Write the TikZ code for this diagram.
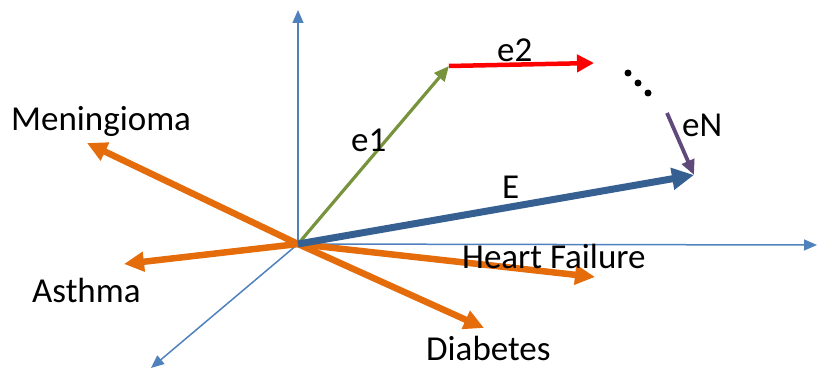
\documentclass[tikz,border=0pt]{standalone}
\usepackage{fontspec}
\setmainfont{Carlito}
\usetikzlibrary{arrows.meta}
\definecolor{axisblue}{RGB}{79,129,189}
\definecolor{orng}{RGB}{228,108,10}
\definecolor{ebl}{RGB}{55,96,146}
\definecolor{grn}{RGB}{119,147,60}
\definecolor{prp}{RGB}{96,74,123}
\begin{document}
\begin{tikzpicture}[x=1pt,y=-1pt,
  axis/.style={draw=axisblue,line width=1.5pt,-{Triangle[length=13pt,width=11pt]}},
  disease/.style={draw=orng,line width=6.5pt,-{Triangle[length=20pt,width=19pt]}},
  vec/.style={line width=3.2pt,-{Triangle[length=15pt,width=13pt]}},
  lbl/.style={anchor=base west,inner sep=0pt,font=\fontsize{35}{42}\selectfont},
  dotn/.style={circle,fill=black,inner sep=0pt,minimum size=7pt}]
\useasboundingbox (0,0) rectangle (817,369);
\coordinate (O) at (298,244);
\coordinate (ytip) at (298,10);
\coordinate (xtip) at (817,245);
\coordinate (ztip) at (151,368);
\coordinate (men) at (87,143);
\coordinate (ast) at (124,264);
\coordinate (hf) at (595,277);
\coordinate (dia) at (484,328);
\coordinate (A) at (449,66);
\coordinate (B) at (594,63);
\coordinate (C) at (667,113);
\coordinate (D) at (694,175);
\draw[axis] (O) -- (ytip);
\draw[axis] (O) -- (xtip);
\draw[axis] (O) -- (ztip);
\draw[disease] (O) -- (men);
\draw[disease] (O) -- (ast);
\draw[disease] (O) -- (hf);
\draw[disease] (O) -- (dia);
\draw[vec,grn] (O) -- (A);
\draw[vec,red,line width=4.5pt,-{Triangle[length=17pt,width=17pt]}] (A) -- (B);
\draw[vec,prp,line width=3.8pt] (C) -- (D);
\draw[draw=ebl,line width=7pt,-{Triangle[length=22pt,width=21pt]}] (O) -- (D);
\node[dotn] (d1) at (628,73) {};
\node[dotn] (d2) at (638,83) {};
\node[dotn] (d3) at (648,93) {};
\node[lbl] (lmen) at (11,130) {Meningioma};
\node[lbl] (last) at (32,302) {Asthma};
\node[lbl] (lhf) at (462,268) {Heart Failure};
\node[lbl] (ldia) at (426,360) {Diabetes};
\node[lbl] (le2) at (497,62) {e2};
\node[lbl] (le1) at (351,151) {e1};
\node[lbl] (leN) at (682,136) {eN};
\node[lbl] (lE) at (502,198) {E};
\end{tikzpicture}
\end{document}
